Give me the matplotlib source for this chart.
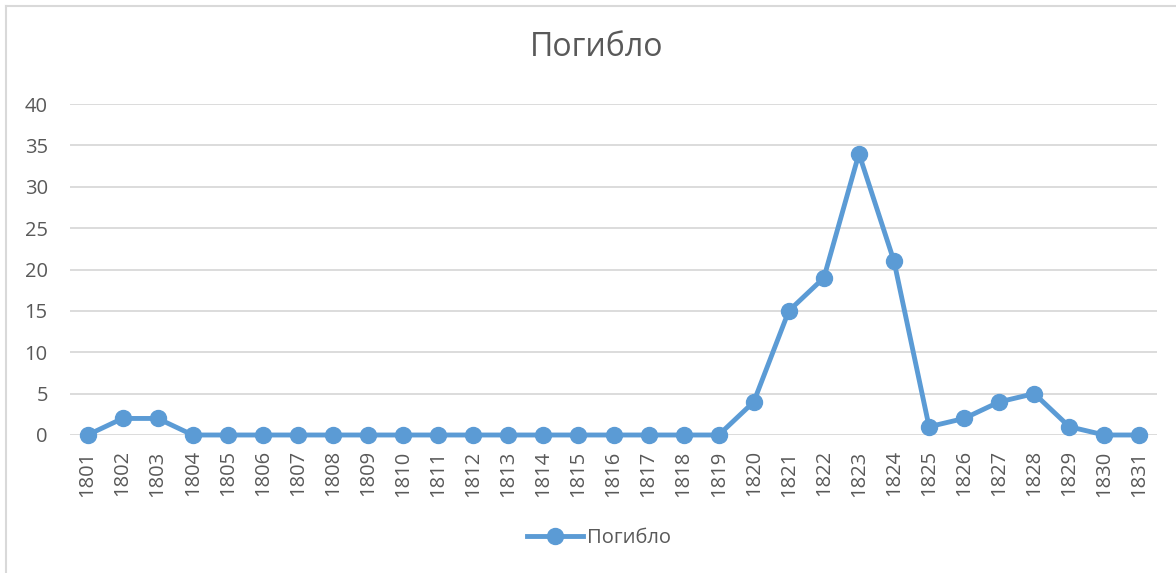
import matplotlib.pyplot as plt
from matplotlib.lines import Line2D

years = [str(y) for y in range(1801, 1832)]
killed = [0, 2, 2, 0, 0, 0, 0, 0, 0, 0, 0, 0, 0, 0, 0, 0, 0, 0, 0,
          4, 15, 19, 34, 21, 1, 2, 4, 5, 1, 0, 0]
yticks = [0, 5, 10, 15, 20, 25, 30, 35, 40]

plt.rcParams['font.family'] = ['Open Sans', 'DejaVu Sans']
text_col = '#595959'
line_col = '#5B9BD5'
grid_col = '#D9D9D9'

fig = plt.figure(figsize=(11.76, 5.73), dpi=100)
ax = fig.add_axes([70 / 1176, 1 - 435 / 573, 1087 / 1176, 331 / 573])

x = list(range(len(years)))
ax.plot(x, killed, color=line_col, lw=3.5, marker='o', ms=11.5,
        solid_joinstyle='round', clip_on=False, zorder=3)

ax.set_xlim(-0.5, len(years) - 0.5)
ax.set_ylim(0, 40)
ax.set_yticks(yticks)
ax.set_xticks(x)
ax.set_xticklabels(years, rotation=90)
ax.yaxis.grid(True, color=grid_col, lw=1.3)
ax.set_axisbelow(True)
for s in ax.spines.values():
    s.set_visible(False)
ax.tick_params(length=0, labelsize=14.5, colors=text_col)
ax.tick_params(axis='y', pad=16)
ax.tick_params(axis='x', pad=11)

fig.text(597 / 1176, 1 - 48 / 573, 'Погибло', ha='center', va='center',
         fontsize=23, color=text_col)

handle = Line2D([], [], color=line_col, lw=3.5, marker='o', ms=11.5)
fig.legend([handle], ['Погибло'], loc='center', bbox_to_anchor=(599 / 1176, 1 - 538 / 573),
           frameon=False, fontsize=14.5, labelcolor=text_col, handlelength=2.8, handletextpad=0.2)

# chart border (left and top visible)
fig.add_artist(Line2D([6 / 1176, 6 / 1176], [0, 1 - 6 / 573], color=grid_col, lw=1.5))
fig.add_artist(Line2D([6 / 1176, 1], [1 - 6 / 573, 1 - 6 / 573], color=grid_col, lw=1.5))

fig.savefig('out.png', dpi=100)
